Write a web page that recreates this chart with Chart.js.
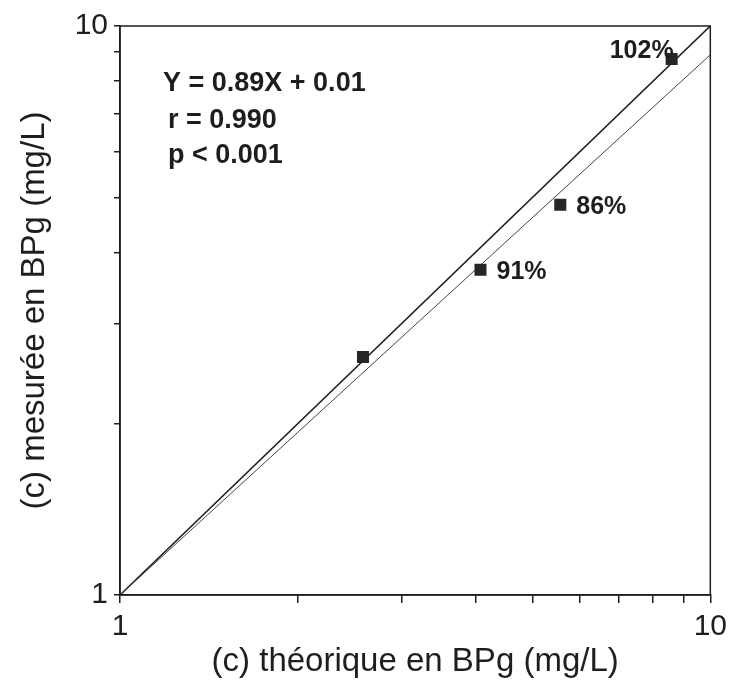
<!DOCTYPE html>
<html>
<head>
<meta charset="utf-8">
<script src="https://cdn.jsdelivr.net/npm/chart.js@4/dist/chart.umd.min.js"></script>
<style>
  html, body { margin: 0; padding: 0; background: #fff; }
  canvas { display: block; }
</style>
</head>
<body>
<canvas id="chart" width="733" height="688"></canvas>
<script>
// measured vs theoretical BPg, log-log
const theoretical = [2.58, 4.08, 5.57, 8.6];
const measured = [2.62, 3.73, 4.85, 8.75];
const pointLabels = ['', '91%', '86%', '102%'];

const identityX = [1, 10];
const identityY = [1, 10];
const regressionX = [1, 10];
const regressionY = [1, 8.9];

const tickValues = [1, 2, 3, 4, 5, 6, 7, 8, 9, 10];
const labelledTicks = [1, 10];

const statsLines = ['Y = 0.89X + 0.01', 'r = 0.990', 'p < 0.001'];

const FONT = '"Liberation Sans", Arial, Helvetica, sans-serif';
const INK = '#1e1e1e';

const toPoints = (xs, ys) => xs.map((x, i) => ({ x: x, y: ys[i] }));

// box round the plot + stats text + percent labels
const extras = {
  id: 'extras',
  afterDatasetsDraw(chart) {
    const ctx = chart.ctx;
    const a = chart.chartArea;
    ctx.save();
    ctx.strokeStyle = INK;
    ctx.lineWidth = 1.5;
    ctx.strokeRect(a.left, a.top, a.right - a.left, a.bottom - a.top);

    ctx.fillStyle = INK;
    ctx.font = 'bold 27px ' + FONT;
    ctx.textBaseline = 'alphabetic';
    ctx.textAlign = 'left';
    ctx.fillText(statsLines[0], a.left + 43, a.top + 65);
    ctx.fillText(statsLines[1], a.left + 48, a.top + 102);
    ctx.fillText(statsLines[2], a.left + 48, a.top + 137);

    const meta = chart.getDatasetMeta(0);
    ctx.font = 'bold 25px ' + FONT;
    ctx.textBaseline = 'middle';
    meta.data.forEach((pt, i) => {
      const txt = pointLabels[i];
      if (!txt) return;
      if (i === pointLabels.length - 1) {
        ctx.textAlign = 'right';
        ctx.fillText(txt, pt.x + 2, pt.y - 8);
      } else {
        ctx.textAlign = 'left';
        ctx.fillText(txt, pt.x + 16, pt.y + 2);
      }
    });
    ctx.restore();
  }
};

const logAxis = (title, tickLen, titlePad) => ({
  type: 'logarithmic',
  min: 1,
  max: 10,
  afterBuildTicks: (scale) => {
    scale.ticks = tickValues.map(v => ({ value: v }));
  },
  ticks: {
    autoSkip: false,
    maxRotation: 0,
    color: INK,
    font: { family: FONT, size: 30 },
    padding: 6,
    callback: (v) => labelledTicks.includes(v) ? String(v) : ''
  },
  grid: {
    drawOnChartArea: false,
    drawTicks: true,
    tickLength: tickLen,
    color: INK,
    lineWidth: 1.5
  },
  border: { display: true, color: INK, width: 1.5 },
  title: {
    display: true,
    text: title,
    color: INK,
    font: { family: FONT, size: 33, weight: 'normal' },
    padding: titlePad
  }
});

const xAxis = logAxis('(c) théorique en BPg (mg/L)', 8, { top: 0, bottom: 6 });
xAxis.afterFit = (scale) => { scale.height = 93; };
const yAxis = logAxis('(c) mesurée en BPg (mg/L)', 6, { top: 15, bottom: 0 });
yAxis.afterFit = (scale) => { scale.width = 120; };

new Chart(document.getElementById('chart').getContext('2d'), {
  type: 'scatter',
  data: {
    datasets: [
      {
        label: 'BPg',
        data: toPoints(theoretical, measured),
        pointStyle: 'rect',
        pointRadius: 8.5,
        backgroundColor: '#262626',
        borderColor: '#262626',
        borderWidth: 0,
        order: 0
      },
      {
        label: 'y = x',
        type: 'line',
        data: toPoints(identityX, identityY),
        borderColor: INK,
        borderWidth: 1.6,
        pointRadius: 0,
        fill: false,
        order: 2
      },
      {
        label: 'regression',
        type: 'line',
        data: toPoints(regressionX, regressionY),
        borderColor: '#444',
        borderWidth: 1,
        pointRadius: 0,
        fill: false,
        order: 1
      }
    ]
  },
  options: {
    responsive: false,
    animation: false,
    devicePixelRatio: 1,
    layout: { padding: { left: 0, top: 26, right: 22, bottom: 0 } },
    scales: { x: xAxis, y: yAxis },
    plugins: {
      legend: { display: false },
      tooltip: { enabled: false }
    }
  },
  plugins: [extras]
});
</script>
</body>
</html>
